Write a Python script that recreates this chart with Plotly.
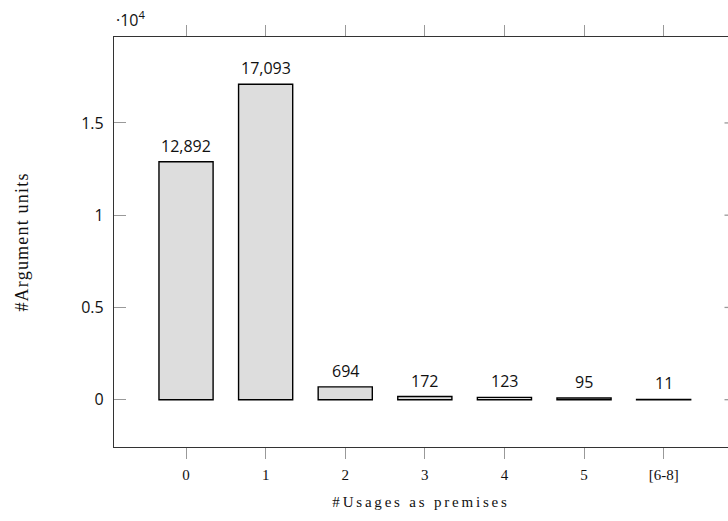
import plotly.graph_objects as go

categories = ["0", "1", "2", "3", "4", "5", "[6-8]"]
counts = [12892, 17093, 694, 172, 123, 95, 11]
ytick_vals = [0, 5000, 10000, 15000]
ytick_text = ["0", "0.5", "1", "1.5"]

W, H = 728, 521
ML, MT, MB, MR = 114, 37, 74, 0
plot_w = W - ML - MR
SERIF = "Liberation Serif"
SANS = "Open Sans"

fig = go.Figure()
fig.add_trace(go.Bar(
    x=categories, y=counts, width=0.68,
    marker=dict(color="#dddddd", line=dict(color="#000000", width=1.4)),
    hoverinfo="skip",
))

for c, v in zip(categories, counts):
    fig.add_annotation(x=c, y=v, text=f"{v:,}", showarrow=False,
                       yanchor="bottom", yshift=3,
                       font=dict(family=SANS, size=16, color="#111"))

# right-side inward y ticks (right axis lies just beyond the visible window)
for v in ytick_vals:
    fig.add_shape(type="line", xref="paper", yref="y",
                  x0=1 - 3.5 / plot_w, x1=1, y0=v, y1=v,
                  line=dict(color="#999", width=1.3))

fig.add_annotation(xref="paper", yref="paper", x=0, y=1, xanchor="left", yanchor="bottom",
                   xshift=0, yshift=4, text="·10<sup>4</sup>", showarrow=False,
                   font=dict(family=SANS, size=16, color="#111"))

fig.update_layout(
    width=W, height=H,
    margin=dict(l=ML, t=MT, b=MB, r=MR),
    plot_bgcolor="white", paper_bgcolor="white",
    showlegend=False,
    xaxis=dict(type="category", range=[-0.905, -0.905 + plot_w / 79.6],
               showline=True, linecolor="#333", linewidth=1.3,
               mirror="ticks", ticks="outside", ticklen=11, tickcolor="#999", tickwidth=1.3,
               showgrid=False, zeroline=False, ticklabelstandoff=3,
               tickfont=dict(family=SERIF, size=15, color="#111"),
               title=dict(text='<span style="letter-spacing:2.8px">#Usages as premises</span>',
                          standoff=14,
                          font=dict(family=SERIF, size=15, color="#111"))),
    yaxis=dict(range=[-2564, 19657], tickvals=ytick_vals, ticktext=ytick_text,
               showline=True, linecolor="#333", linewidth=1.3,
               ticks="inside", ticklen=12, tickcolor="#999", tickwidth=1.3,
               showgrid=False, zeroline=False, ticklabelstandoff=6,
               tickfont=dict(family=SANS, size=16, color="#111"),
               title=dict(text='<span style="letter-spacing:1.2px">#Argument units</span>',
                          standoff=47,
                          font=dict(family=SERIF, size=18, color="#111"))),
)

fig.write_html("out.html")
